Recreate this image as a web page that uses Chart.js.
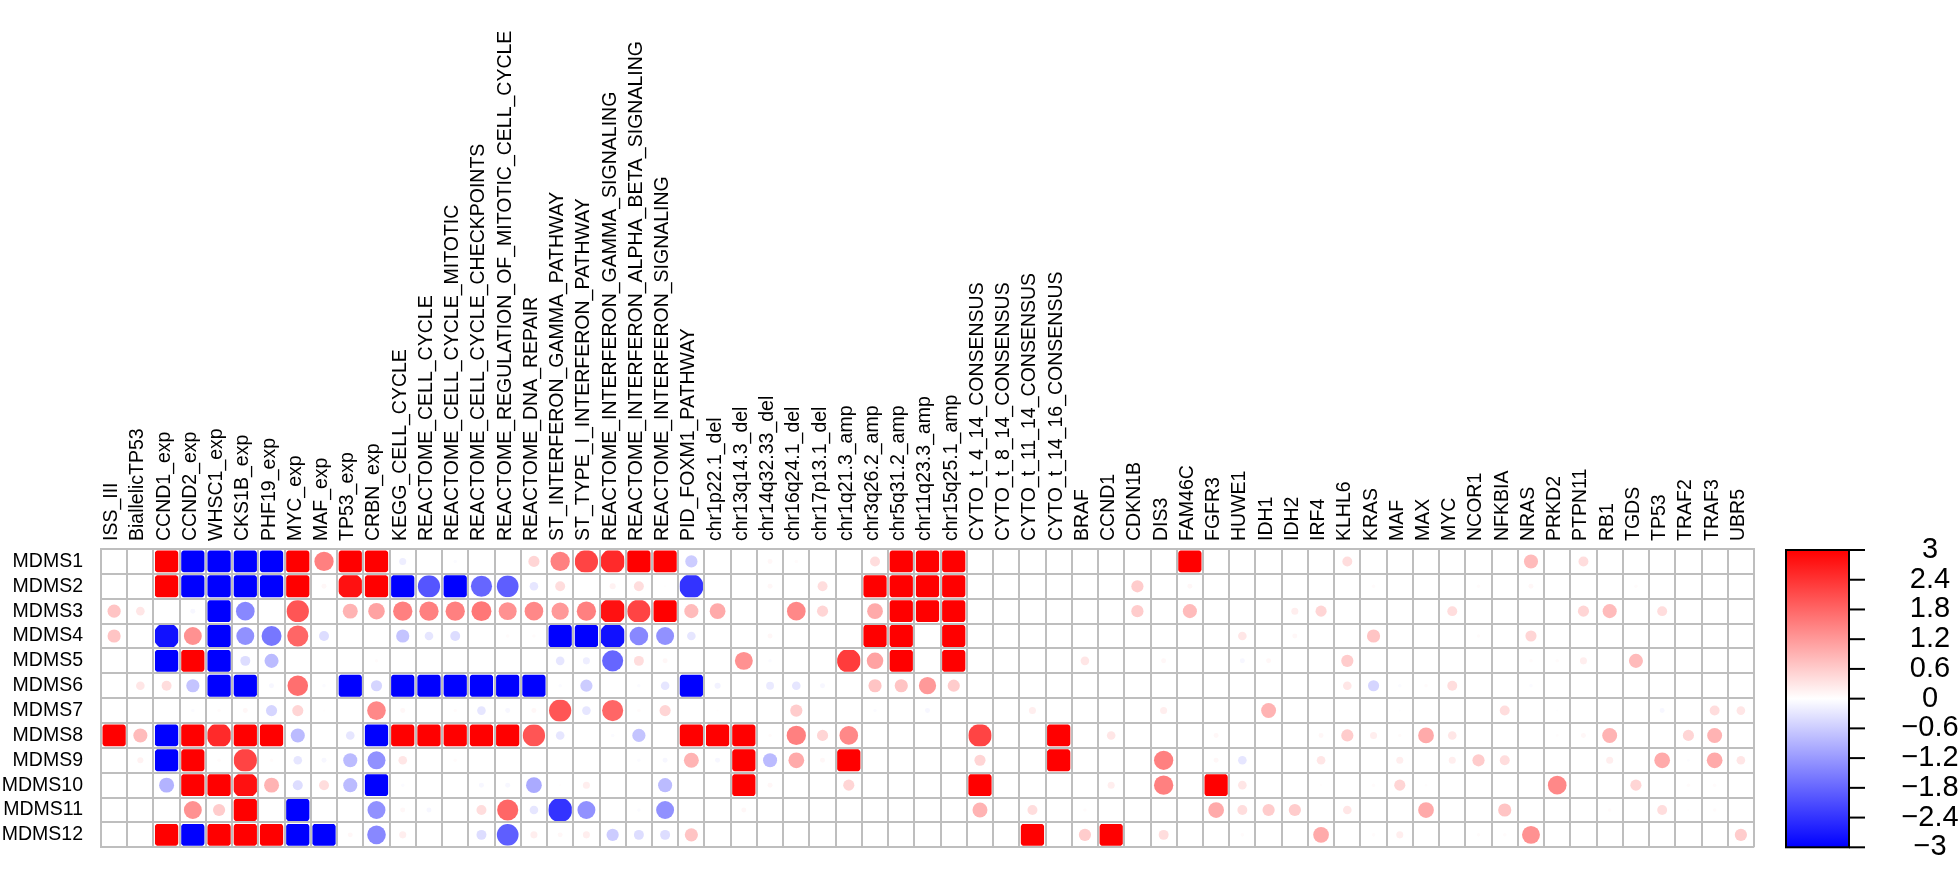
<!DOCTYPE html>
<html>
<head>
<meta charset="utf-8">
<script src="https://cdn.jsdelivr.net/npm/chart.js@4.4.0/dist/chart.umd.min.js"></script>
<style>
  html, body { margin: 0; padding: 0; background: #fff; }
</style>
</head>
<body>
<canvas id="chart" width="1960" height="877"></canvas>
<script>
// column and row names
const colNames = ['ISS_III', 'BiallelicTP53', 'CCND1_exp', 'CCND2_exp', 'WHSC1_exp', 'CKS1B_exp', 'PHF19_exp',
  'MYC_exp', 'MAF_exp', 'TP53_exp', 'CRBN_exp', 'KEGG_CELL_CYCLE', 'REACTOME_CELL_CYCLE',
  'REACTOME_CELL_CYCLE_MITOTIC', 'REACTOME_CELL_CYCLE_CHECKPOINTS', 'REACTOME_REGULATION_OF_MITOTIC_CELL_CYCLE',
  'REACTOME_DNA_REPAIR', 'ST_INTERFERON_GAMMA_PATHWAY', 'ST_TYPE_I_INTERFERON_PATHWAY',
  'REACTOME_INTERFERON_GAMMA_SIGNALING', 'REACTOME_INTERFERON_ALPHA_BETA_SIGNALING', 'REACTOME_INTERFERON_SIGNALING',
  'PID_FOXM1_PATHWAY', 'chr1p22.1_del', 'chr13q14.3_del', 'chr14q32.33_del', 'chr16q24.1_del', 'chr17p13.1_del',
  'chr1q21.3_amp', 'chr3q26.2_amp', 'chr5q31.2_amp', 'chr11q23.3_amp', 'chr15q25.1_amp',
  'CYTO_t_4_14_CONSENSUS', 'CYTO_t_8_14_CONSENSUS', 'CYTO_t_11_14_CONSENSUS', 'CYTO_t_14_16_CONSENSUS',
  'BRAF', 'CCND1', 'CDKN1B', 'DIS3', 'FAM46C', 'FGFR3', 'HUWE1', 'IDH1', 'IDH2', 'IRF4', 'KLHL6', 'KRAS',
  'MAF', 'MAX', 'MYC', 'NCOR1', 'NFKBIA', 'NRAS', 'PRKD2', 'PTPN11', 'RB1', 'TGDS', 'TP53', 'TRAF2', 'TRAF3', 'UBR5'];
const rowNames = ['MDMS1', 'MDMS2', 'MDMS3', 'MDMS4', 'MDMS5', 'MDMS6', 'MDMS7', 'MDMS8', 'MDMS9', 'MDMS10', 'MDMS11', 'MDMS12'];

// one array per subgroup, 63 values (|v| > 3 is drawn as full colour)
const mdms1 = [0, 0, 3.5, -3.5, -3.5, -3.5, -3.5, 3.5, 1.5, 3.5, 3.5,
  -0.2, 0, -0.05, 0, 0, 0.5, 1.5, 2.2, 2.5, 3.5, 3.5, -0.6,
  0, 0, 0.1, 0.05, 0, 0, 0.4, 3.5, 3.5, 3.5,
  0, 0, 0, 0, 0, 0, 0, 0, 3.5, 0, 0, 0, 0, 0, 0.4, 0,
  0, 0, 0, 0, 0, 0.8, 0, 0.4, 0, 0, 0, 0, 0, 0];
const mdms2 = [0, 0, 3.5, -3.5, -3.5, -3.5, -3.5, 3.5, 0.1, 2.8, 3.5,
  -3.5, -2.0, -3.5, -1.8, -1.9, -0.3, 0.4, 0, 0.15, 0.4, 0.02, -2.4,
  0, 0, 0.1, 0, 0.4, 0, 3.5, 3.5, 3.5, 3.5,
  0, 0, 0, 0, 0, 0, 0.6, 0, 0.1, 0, 0, 0, 0, 0, 0, 0.05,
  0, 0, 0, 0.05, 0, 0.1, 0, 0, 0, 0.05, 0, 0, 0, 0];
const mdms3 = [0.7, 0.3, 0, -0.1, -3.5, -1.4, 0, 2.0, 0, 0.9, 1.1,
  1.5, 1.5, 1.5, 1.6, 1.3, 1.4, 1.2, 1.5, 2.8, 2.2, 3.5, 0.8,
  1.0, 0, 0, 1.4, 0.5, 0, 1.0, 3.5, 3.5, 3.5,
  0, 0, 0, 0, 0, 0, 0.6, 0, 0.8, 0, 0, 0, 0.2, 0.5, 0, 0,
  0, 0, 0.4, 0, 0, 0, 0, 0.5, 0.8, 0, 0.4, 0, 0, 0];
const mdms4 = [0.7, 0, -2.8, 1.3, -3.5, -1.3, -1.6, 1.8, -0.4, 0, 0,
  -0.7, -0.3, -0.4, 0, 0.05, 0.05, -3.5, -3.5, -2.8, -1.4, -1.3, -0.3,
  0, 0, 0.1, 0, 0, 0, 3.5, 3.5, 0, 3.5,
  0, 0, 0, 0, 0, 0, 0, 0, 0, 0, 0.3, 0, 0.1, 0, 0, 0.7,
  0, 0, 0, 0.05, 0, 0.5, 0, 0, 0, 0, 0, 0, 0, 0];
const mdms5 = [0, 0, -3.5, 3.5, -3.5, -0.4, -0.8, 0, 0, 0, 0.05,
  0, 0, 0, 0, 0, 0, -0.3, -0.2, -1.8, 0.4, 0.1, 0,
  0, 1.3, -0.05, 0, 0, 2.3, 1.1, 3.5, 0, 3.5,
  0, 0, 0, 0, 0.3, 0, 0, 0.1, 0, 0, -0.1, 0.1, 0, 0, 0.6, 0,
  0, 0, 0, 0, 0, 0.05, 0.05, 0.2, 0, 0.8, 0, 0, 0, 0];
const mdms6 = [0, 0.3, 0.4, -0.7, -3.5, -3.5, -0.1, 1.7, -0.05, -3.5, -0.5,
  -3.5, -3.5, -3.5, -3.5, -3.5, -3.5, -0.05, -0.6, 0, -0.05, -0.3, -3.5,
  -0.15, 0, -0.25, -0.3, -0.1, 0, 0.7, 0.7, 1.2, 0.6,
  0, 0, 0, 0, 0, 0, 0, 0, 0, 0, 0, 0, 0, 0, 0.3, -0.5,
  -0.05, 0.05, 0.4, 0, 0, -0.05, 0, 0, 0, 0, 0, 0, 0, 0];
const mdms7 = [0, 0, 0, -0.05, 0.05, 0.1, -0.5, 0.5, 0.02, 0, 1.4,
  0.1, 0, 0.05, -0.3, -0.1, 0.1, 2.0, -0.3, 1.8, 0.05, 0.5, 0,
  0.02, 0, 0, 0.6, 0, 0, -0.05, 0, -0.1, 0,
  0, 0, 0.2, 0, 0, 0, 0, 0.2, 0, 0, 0, 0.9, 0, 0, 0, 0,
  -0.02, 0, 0, 0, 0.4, 0, -0.02, 0, 0, 0, -0.1, 0, 0.4, 0.3];
const mdms8 = [3.5, 0.8, -3.5, 3.5, 2.5, 3.5, 3.5, -0.8, 0, -0.3, -3.5,
  3.5, 3.5, 3.5, 3.5, 3.5, 2.0, -0.3, 0, -0.05, -0.7, 0, 3.5,
  3.5, 3.5, 0.05, 1.5, 0.5, 1.4, 0, 0, 0, 0,
  2.2, 0, 0, 3.5, 0, 0.3, 0, 0, 0, 0.1, 0, 0, 0, 0.1, 0.6, 0.2,
  0.05, 1.0, 0.3, 0, 0, 0, 0.03, 0.1, 0.9, 0, 0, 0.5, 0.9, 0];
const mdms9 = [0, 0.15, -3.5, 3.5, 0.05, 2.2, 0.05, -0.3, -0.1, -0.8, -1.3,
  0.3, 0, 0.05, 0, 0, 0, 0, 0, 0, -0.05, -0.1, 0.9,
  -0.1, 3.5, -0.8, 1.0, 0.1, 3.5, 0, 0, 0, 0,
  0.5, 0, 0, 3.5, 0, 0, 0, 1.5, 0, 0.1, -0.3, 0, 0, 0.3, 0, 0,
  0.2, 0, 0.2, 0.6, 0.4, 0, 0, 0, 0.2, 0, 1.0, -0.03, 1.0, 0.3];
const mdms10 = [0, 0, -0.9, 3.5, 3.5, 2.8, 0.9, -0.4, 0.4, -0.8, -3.5,
  -0.05, 0, 0, -0.1, -0.1, -1.0, 0.02, 0.2, 0, 0, -0.8, 0,
  0, 3.5, 0.1, 0, 0, 0.5, 0, 0, 0, 0,
  3.5, 0, 0, 0, 0, 0.2, 0, 1.5, 0, 3.5, 0.3, 0, 0, 0.02, 0, 0.05,
  0.5, 0.03, 0, 0, 0, 0, 1.4, 0, 0, 0.5, 0, 0.05, 0.05, 0];
const mdms11 = [0, 0, 0, 1.3, 0.6, 3.5, 0, -3.5, 0, 0, -1.3,
  0.1, -0.1, 0, 0.4, 1.8, -0.3, -2.4, -1.3, 0, -0.05, -1.3, 0,
  0, 0.1, 0, 0, 0, 0, 0, 0, 0, 0,
  0.9, 0, 0.4, 0, 0.05, 0, 0, 0, 0, 1.0, 0.4, 0.6, 0.6, 0, 0.3, 0,
  0, 1.0, 0, 0, 0.7, 0, 0, 0, 0.05, 0, 0.4, 0.02, 0.05, 0];
const mdms12 = [0, 0, 3.5, -3.5, 3.5, 3.5, 3.5, -3.5, -3.5, 0.1, -1.4,
  0.2, 0, 0, -0.4, -1.9, 0.2, 0.1, 0.2, -0.6, -0.4, -0.4, 0.7,
  0, 0, 0, 0, 0, 0, 0, 0, 0, 0,
  0, 0, 3.5, 0, 0.6, 3.5, 0, 0.4, 0, 0, 0.05, 0, 0, 1.0, 0, 0.05,
  0.2, 0, 0, 0.05, 0.05, 1.3, 0, 0, 0, 0, 0, 0, 0, 0.6];

const colorTicks = [3, 2.4, 1.8, 1.2, 0.6, 0, -0.6, -1.2, -1.8, -2.4, -3];
const colorMin = -3;
const colorMax = 3;

const rows = [mdms1, mdms2, mdms3, mdms4, mdms5, mdms6, mdms7, mdms8, mdms9, mdms10, mdms11, mdms12];
const points = [];
rows.forEach((vals, r) => {
  vals.forEach((v, c) => points.push({ x: colNames[c], y: rowNames[r], v: v }));
});

// blue - white - red
function colorFor(v) {
  const t = Math.min(Math.abs(v) / colorMax, 1);
  const k = Math.round(255 * (1 - t));
  return v >= 0 ? `rgb(255,${k},${k})` : `rgb(${k},${k},255)`;
}

const FONT = 'Liberation Sans, Arial, Helvetica, sans-serif';
Chart.defaults.font.family = FONT;
Chart.defaults.color = '#000';

// circles, clipped to their cell
const dotPlugin = {
  id: 'dots',
  afterDatasetsDraw(chart) {
    const { ctx } = chart;
    const xs = chart.scales.x;
    const ys = chart.scales.y;
    const cw = Math.abs(xs.getPixelForValue(1) - xs.getPixelForValue(0));
    const ch = Math.abs(ys.getPixelForValue(1) - ys.getPixelForValue(0));
    const meta = chart.getDatasetMeta(0);
    const data = chart.data.datasets[0].data;
    meta.data.forEach((pt, i) => {
      const v = data[i].v;
      if (!v) return;
      const r = 0.3 * cw * Math.sqrt(Math.abs(v));
      const hw = cw / 2 - 1.5;
      const hh = ch / 2 - 1.5;
      ctx.save();
      ctx.beginPath();
      ctx.rect(pt.x - hw, pt.y - hh, 2 * hw, 2 * hh);
      ctx.clip();
      ctx.beginPath();
      ctx.arc(pt.x, pt.y, r, 0, Math.PI * 2);
      ctx.fillStyle = colorFor(v);
      ctx.fill();
      ctx.restore();
    });
  }
};

// colour legend at the right
const colorBarPlugin = {
  id: 'colorBar',
  afterDraw(chart) {
    const { ctx, chartArea } = chart;
    const left = chartArea.right + 32;
    const w = 63;
    const top = chartArea.top + 1;
    const bot = chartArea.bottom;
    const grad = ctx.createLinearGradient(0, top, 0, bot);
    grad.addColorStop(0, '#ff0000');
    grad.addColorStop(0.5, '#ffffff');
    grad.addColorStop(1, '#0000ff');
    ctx.save();
    ctx.fillStyle = grad;
    ctx.fillRect(left, top, w, bot - top);
    ctx.lineWidth = 2;
    ctx.strokeStyle = '#000';
    ctx.strokeRect(left, top, w, bot - top);
    ctx.font = `29px ${FONT}`;
    ctx.fillStyle = '#000';
    ctx.textAlign = 'center';
    ctx.textBaseline = 'middle';
    colorTicks.forEach((t) => {
      const y = top + (colorMax - t) / (colorMax - colorMin) * (bot - top);
      ctx.beginPath();
      ctx.moveTo(left + w, y);
      ctx.lineTo(left + w + 16, y);
      ctx.stroke();
      const txt = t < 0 ? '\u2212' + Math.abs(t) : String(t);
      ctx.fillText(txt, left + w + 81, y);
    });
    ctx.restore();
  }
};

new Chart(document.getElementById('chart'), {
  type: 'scatter',
  data: {
    datasets: [{
      data: points,
      pointRadius: 0,
      pointHoverRadius: 0,
      pointHitRadius: 0
    }]
  },
  options: {
    responsive: false,
    animation: false,
    devicePixelRatio: 1,
    events: [],
    layout: { padding: { left: 0, top: 0, right: 206, bottom: 13 } },
    plugins: {
      legend: { display: false },
      tooltip: { enabled: false }
    },
    scales: {
      x: {
        type: 'category',
        labels: colNames,
        position: 'top',
        offset: true,
        grid: { offset: true, color: '#bebebe', lineWidth: 2, drawTicks: false },
        border: { color: '#bebebe', width: 2 },
        ticks: {
          autoSkip: false,
          minRotation: 90,
          maxRotation: 90,
          padding: 8,
          labelOffset: 21,
          color: '#000',
          font: { size: 19.5 }
        },
        afterFit(scale) { scale.height = 549; }
      },
      y: {
        type: 'category',
        labels: rowNames,
        offset: true,
        grid: { offset: true, color: '#bebebe', lineWidth: 2, drawTicks: false },
        border: { color: '#bebebe', width: 2 },
        ticks: {
          autoSkip: false,
          padding: 18,
          color: '#000',
          font: { size: 19.5 }
        },
        afterFit(scale) { scale.width = 101; }
      }
    }
  },
  plugins: [dotPlugin, colorBarPlugin]
});
</script>
</body>
</html>
